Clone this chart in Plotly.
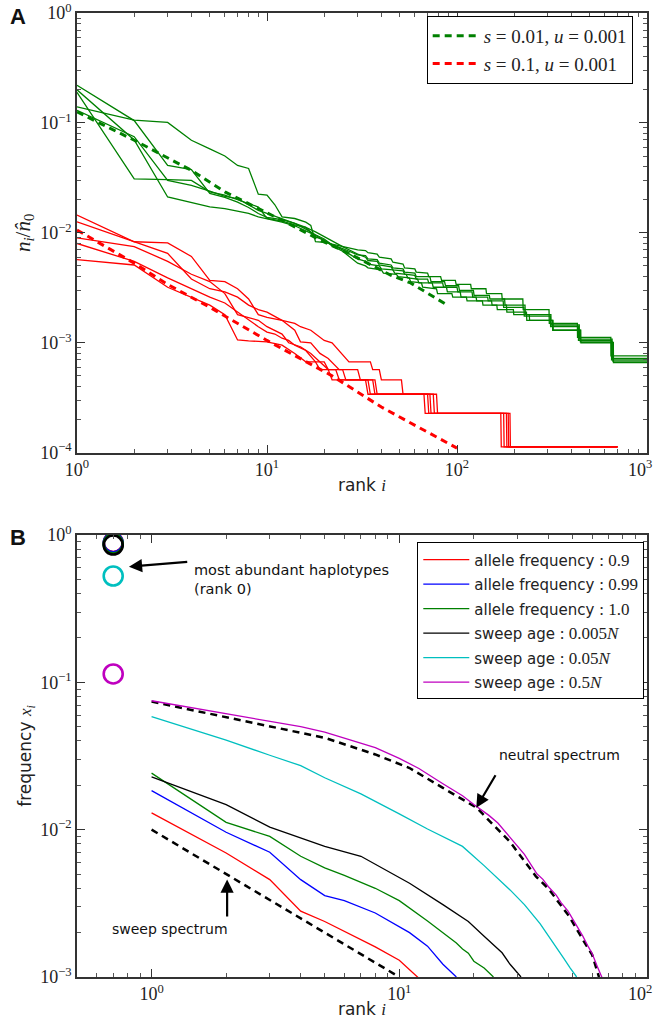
import plotly.graph_objects as go
import numpy as np

# ---------------- Panel A data ----------------
green_sim_1_rank = [1,2,3,4,5,6,7,8,9,10,11,12,14,16,17,18,20,22,25,28,30,33,34,38,39,45,46,52,53,60,61,70,71,82,83,98,99,118,119,142,143,172,173,222,223,305,306,430,431,645,646,1000]
green_sim_1_val = [0.14,0.106,0.101,0.0695,0.058,0.05,0.041,0.0385,0.0225,0.022,0.018,0.014,0.0135,0.0125,0.0117,0.0083,0.0082,0.0079,0.0076,0.0072,0.007,0.0069,0.0066,0.0064,0.006,0.0058,0.0054,0.0052,0.0048,0.0047,0.0044,0.0043,0.004,0.004,0.0037,0.0037,0.0034,0.0034,0.0031,0.0031,0.0028,0.0028,0.0025,0.0025,0.0020,0.0020,0.0015,0.0015,0.00112,0.00112,0.00076,0.00076]

green_sim_2_rank = [1,2,3,4,5,6,7,8,9,10,12,14,16,18,20,22,25,28,30,33,34,38,39,45,46,52,53,60,61,72,73,86,87,102,103,122,123,148,149,178,179,228,229,312,313,440,441,655,656,1000]
green_sim_2_val = [0.22,0.105,0.041,0.0377,0.0228,0.021,0.019,0.017,0.015,0.0138,0.0132,0.0122,0.0108,0.0096,0.0088,0.0078,0.0072,0.0066,0.0063,0.0062,0.0058,0.0057,0.0053,0.0051,0.0048,0.0047,0.0044,0.0043,0.004,0.004,0.0036,0.0036,0.0033,0.0033,0.003,0.003,0.0027,0.0027,0.0025,0.0025,0.0022,0.0022,0.0018,0.0018,0.00145,0.00145,0.00108,0.00108,0.00072,0.00072]

green_sim_3_rank = [1,2,3,4,5,6,7,8,9,10,12,14,16,18,20,22,25,28,30,33,34,38,39,45,46,52,53,60,61,70,71,84,85,100,101,120,121,145,146,175,176,225,226,310,311,435,436,650,651,1000]
green_sim_3_val = [0.19,0.031,0.0305,0.030,0.0236,0.022,0.02,0.0185,0.0172,0.0135,0.0128,0.0118,0.0112,0.0102,0.0092,0.0084,0.0075,0.0068,0.0064,0.006,0.0056,0.0055,0.0051,0.0049,0.0046,0.0045,0.0042,0.0041,0.0038,0.0038,0.0035,0.0035,0.0032,0.0032,0.0029,0.0029,0.0026,0.0026,0.0024,0.0024,0.0021,0.0021,0.00175,0.00175,0.0014,0.0014,0.00105,0.00105,0.0007,0.0007]

green_sim_4_rank = [1,2,3,4,5,6,7,8,9,10,12,14,16,18,20,22,25,28,30,33,34,39,40,46,47,54,55,62,63,74,75,88,89,104,105,126,127,152,153,182,183,232,233,318,319,448,449,665,666,1000]
green_sim_4_val = [0.2,0.07,0.0212,0.019,0.0172,0.0166,0.0158,0.015,0.014,0.0135,0.0125,0.0116,0.0104,0.0095,0.0085,0.0078,0.007,0.0062,0.0058,0.0055,0.0052,0.005,0.0047,0.0046,0.0043,0.0042,0.0039,0.0038,0.0035,0.0035,0.0032,0.0032,0.0029,0.0029,0.0026,0.0026,0.0024,0.0024,0.0022,0.0022,0.0019,0.0019,0.0016,0.0016,0.0013,0.0013,0.001,0.001,0.00066,0.00066]

green_sim_5_rank = [1,2,3,4,5,6,7,8,9,10,12,14,16,18,20,22,25,28,30,33,34,40,41,48,49,56,57,65,66,78,79,94,95,112,113,136,137,162,163,198,199,240,241,320,321,445,446,660,661,1000]
green_sim_5_val = [0.13,0.075,0.03,0.027,0.024,0.0215,0.0205,0.018,0.016,0.015,0.0135,0.0122,0.0112,0.0092,0.0086,0.0076,0.0068,0.0058,0.0053,0.005,0.0048,0.0046,0.0043,0.0042,0.004,0.0039,0.0036,0.0035,0.0032,0.0031,0.0028,0.0028,0.0026,0.0026,0.0024,0.0024,0.0022,0.0022,0.002,0.002,0.0018,0.0018,0.0016,0.0016,0.0013,0.0013,0.00102,0.00102,0.00068,0.00068]

green_theory_rank = [1,2,4,6,12,19,27,45,57,89]
green_theory_val = [0.126,0.0696,0.037,0.0236,0.013,0.0086,0.0065,0.0041,0.0035,0.0022]

red_sim_1_rank = [1,2,3,4,5,6,7,8,9,10,12,14,15,17,20,22,27,35,36,39,40,51,52,78,79,190,191,700]
red_sim_1_val = [0.0145,0.0083,0.0081,0.0061,0.0037,0.0036,0.0031,0.0025,0.0018,0.0017,0.0016,0.0015,0.0014,0.0013,0.00105,0.001,0.00067,0.00067,0.00057,0.00057,0.00046,0.00046,0.00034,0.00034,0.000228,0.000228,0.000113,0.000113]

red_sim_2_rank = [1,2,3,4,5,6,7,8,9,10,12,14,15,17,19,21,24,30,31,37,38,72,73,182,183,700]
red_sim_2_val = [0.0126,0.0083,0.0065,0.0038,0.0031,0.0029,0.0026,0.0022,0.002,0.0019,0.0016,0.0013,0.00102,0.001,0.0008,0.00072,0.00057,0.00057,0.00046,0.00046,0.00034,0.00034,0.000228,0.000228,0.000113,0.000113]

red_sim_3_rank = [1,2,3,4,5,6,7,8,9,10,11,12,13,15,17,19,21,25,26,34,35,67,68,170,171,700]
red_sim_3_val = [0.009,0.0075,0.0055,0.0042,0.0036,0.0028,0.0018,0.0017,0.0016,0.0014,0.0013,0.0012,0.001,0.00092,0.0008,0.00067,0.00057,0.00057,0.00046,0.00046,0.00034,0.00034,0.000228,0.000228,0.000113,0.000113]

red_sim_4_rank = [1,2,3,4,5,6,7,8,9,10,11,12,13,14,16,18,20,21,23,24,33,34,70,71,176,177,700]
red_sim_4_val = [0.008,0.0055,0.0039,0.0031,0.0026,0.0023,0.0019,0.0016,0.0014,0.00125,0.0012,0.0011,0.00105,0.00095,0.00085,0.00067,0.00067,0.00057,0.00057,0.00046,0.00046,0.00034,0.00034,0.000228,0.000228,0.000113,0.000113]

red_sim_5_rank = [1,2,3,4,5,6,7,8,10,12,14,16,18,19,21,22,36,37,75,76,186,187,700]
red_sim_5_val = [0.0057,0.0051,0.0032,0.0026,0.0022,0.0018,0.00106,0.00104,0.00102,0.00095,0.0008,0.00067,0.00067,0.00057,0.00057,0.00046,0.00046,0.00034,0.00034,0.000228,0.000228,0.000113,0.000113]

red_theory_rank = [1,2,3,5,10,16,22,40,100]
red_theory_val = [0.0106,0.0053,0.0034,0.0021,0.00105,0.00067,0.0005,0.00026,0.00011]

# ---------------- Panel B data ----------------
b_labels = ["allele frequency : 0.9", "allele frequency : 0.99", "allele frequency : 1.0",
            "sweep age : 0.005N", "sweep age : 0.05N", "sweep age : 0.5N"]
b_colors = ["#ff0000", "#0000ff", "#008000", "#000000", "#00bfbf", "#bf00bf"]

rank0_x = 0.7
rank0_vals = [0.89, 0.885, 0.87, 0.855, 0.527, 0.114]

af09_rank = [1,2,3,4,5,7,8,10,11,12]
af09_val = [0.013,0.00695,0.00458,0.0028,0.00238,0.0018,0.0016,0.0013,0.00112,0.00098]
af099_rank = [1,2,3,4,5,6,8,10,11,13,15,17]
af099_val = [0.0184,0.0096,0.00703,0.00458,0.00357,0.0033,0.00272,0.0022,0.002,0.00162,0.00122,0.001]
af10_rank = [1,2,3,4,5,6,8,10,13,15,17,18,19,20,22,24]
af10_val = [0.0242,0.0112,0.009,0.0066,0.0055,0.0049,0.004,0.0033,0.0024,0.002,0.0017,0.00155,0.00145,0.00128,0.00115,0.001]
age0005_rank = [1,2,3,5,7,11,15,19,22,26,28,31]
age0005_val = [0.0228,0.0148,0.0104,0.0077,0.0066,0.00433,0.0031,0.00238,0.00189,0.00146,0.00122,0.001]
age005_rank = [1,2,3,4,5,7,10,13,18,22,28,32,37,42,46,49,52]
age005_val = [0.0586,0.0405,0.032,0.0272,0.0225,0.0175,0.0128,0.0101,0.0077,0.0057,0.0039,0.0031,0.0023,0.0017,0.00135,0.00115,0.001]
age05_rank = [1,2,3,4,5,6,8,10,12,15,18,20,23,25,28,30,32,34,36,38,40,43,45,48,50,53,55,58,60,63,66]
age05_val = [0.075,0.061,0.054,0.050,0.046,0.042,0.036,0.0305,0.026,0.0205,0.0170,0.0148,0.0125,0.0111,0.0089,0.0078,0.0068,0.0058,0.0050,0.0046,0.0041,0.0036,0.0032,0.0028,0.0025,0.0021,0.0019,0.0016,0.00145,0.00118,0.00098]

neutral_rank = [1,2,4,5,8,11,15,20.5,28,35.6,40,48.5,55,60,64]
neutral_val = [0.074,0.058,0.0455,0.042,0.0324,0.0262,0.0192,0.0141,0.00826,0.00482,0.00398,0.00258,0.0018,0.00142,0.001]
sweep_rank = [1,10]
sweep_val = [0.01,0.001]

b_series = [(af09_rank, af09_val), (af099_rank, af099_val), (af10_rank, af10_val),
            (age0005_rank, age0005_val), (age005_rank, age005_val), (age05_rank, age05_val)]

SERIF = "Liberation Serif"
SANS = "DejaVu Sans"
GREEN = "#008000"
RED = "#ff0000"

fig = go.Figure()

def add_line(x, y, color, xa, ya, width=1.3, dash=None, name=None, showlegend=False, legend=None, group=None):
    fig.add_trace(go.Scatter(x=x, y=y, mode="lines", xaxis=xa, yaxis=ya,
                             line=dict(color=color, width=width, dash=dash),
                             name=name, showlegend=showlegend, legend=legend,
                             legendgroup=group, hoverinfo="skip"))

for r, v in [(green_sim_1_rank, green_sim_1_val), (green_sim_2_rank, green_sim_2_val),
             (green_sim_3_rank, green_sim_3_val), (green_sim_4_rank, green_sim_4_val),
             (green_sim_5_rank, green_sim_5_val)]:
    add_line(r, v, GREEN, "x", "y")
for r, v in [(red_sim_1_rank, red_sim_1_val), (red_sim_2_rank, red_sim_2_val),
             (red_sim_3_rank, red_sim_3_val), (red_sim_4_rank, red_sim_4_val),
             (red_sim_5_rank, red_sim_5_val)]:
    add_line(r, v, RED, "x", "y")
add_line(green_theory_rank, green_theory_val, GREEN, "x", "y", width=3, dash="7px,5px",
         name="<i>s</i> = 0.01, <i>u</i> = 0.001", showlegend=True, legend="legend", group="ga")
add_line(red_theory_rank, red_theory_val, RED, "x", "y", width=3, dash="7px,5px",
         name="<i>s</i> = 0.1, <i>u</i> = 0.001", showlegend=True, legend="legend", group="gb")

# panel B
add_line(sweep_rank, sweep_val, "#000000", "x2", "y2", width=2.5, dash="7px,5px")
add_line(neutral_rank, neutral_val, "#000000", "x2", "y2", width=2.5, dash="7px,5px")

def fmt_label(lbl):
    head, tail = lbl.split(" : ")
    if tail.endswith("N"):
        tail = tail[:-1] + "<i>N</i>"
    return f"{head} <span style='font-family:{SERIF};font-size:17px'>: {tail}</span>"

for i, ((r, v), lbl, col) in enumerate(zip(b_series, b_labels, b_colors)):
    add_line(r, v, col, "x2", "y2", width=1.3, name=fmt_label(lbl), showlegend=True,
             legend="legend2", group=f"b{i}")

for val, col in zip(rank0_vals, b_colors):
    fig.add_trace(go.Scatter(x=[rank0_x], y=[val], mode="markers", xaxis="x2", yaxis="y2",
                             marker=dict(symbol="circle-open", size=19, color=col,
                                         line=dict(color=col, width=2.6)),
                             showlegend=False, hoverinfo="skip"))

axis_common = dict(type="log", showgrid=False, zeroline=False, showline=True, automargin=False,
                   linecolor="#333333", linewidth=1.5, mirror="allticks",
                   ticks="inside", ticklen=8, tickwidth=1, tickcolor="#333333",
                   ticklabeloverflow="allow",
                   minor=dict(ticks="inside", ticklen=4, tickwidth=0.8, tickcolor="#555555", dtick="D1", showgrid=False),
                   tickfont=dict(family=SERIF, size=18, color="#222222"))

NB = "\u00a0"

def pow_text(e, pad=False):
    s = str(e).replace("-", "\u2212")
    return f"10<sup>{s}</sup>" + (NB * 3 if pad else "")

fig.update_layout(
    width=659, height=1028,
    paper_bgcolor="white", plot_bgcolor="white",
    margin=dict(l=77, r=12, t=13, b=51, autoexpand=False),
    xaxis=dict(axis_common, domain=[0, 1], anchor="y", range=[0, 3],
               tickvals=[1, 10, 100, 1000], ticktext=[pow_text(e, e == 3) for e in range(0, 4)],
               title=dict(text=f"rank <span style='font-family:{SERIF}'><i>i</i></span>",
                          font=dict(family=SANS, size=17, color="#222"), standoff=0)),
    yaxis=dict(axis_common, domain=[0.5439, 1], anchor="x", range=[-4, 0],
               tickvals=[1, 0.1, 0.01, 0.001, 0.0001], ticktext=[pow_text(-e) for e in range(0, 5)],
               title=dict(text="<i>n<sub>i</sub></i>/<i>n\u0302</i><sub>0</sub>",
                          font=dict(family=SERIF, size=21, color="#222"), standoff=4)),
    xaxis2=dict(axis_common, domain=[0, 1], anchor="y2", range=[np.log10(0.5), 2],
                tickvals=[1, 10, 100], ticktext=[pow_text(e, e == 2) for e in range(0, 3)],
                title=dict(text=f"rank <span style='font-family:{SERIF}'><i>i</i></span>",
                           font=dict(family=SANS, size=17, color="#222"), standoff=0)),
    yaxis2=dict(axis_common, domain=[0, 0.4585], anchor="x2", range=[-3, 0],
                tickvals=[1, 0.1, 0.01, 0.001], ticktext=[pow_text(-e) for e in range(0, 4)],
                title=dict(text=f"frequency <span style='font-family:{SERIF}'><i>x<sub>i</sub></i></span>",
                           font=dict(family=SANS, size=17, color="#222"), standoff=4)),
    legend=dict(x=0.6135, y=0.997, xanchor="left", yanchor="top",
                bgcolor="white", bordercolor="#000", borderwidth=1, itemwidth=46,
                font=dict(family=SERIF, size=19, color="#222"), tracegroupgap=0,
                traceorder="grouped"),
    legend2=dict(x=0.597, y=0.4508, xanchor="left", yanchor="top",
                 bgcolor="white", bordercolor="#000", borderwidth=1, itemwidth=46,
                 font=dict(family=SANS, size=15, color="#222"), tracegroupgap=2,
                 traceorder="grouped"),
)

annotations = [
    dict(text="<b>A</b>", xref="paper", yref="paper", x=-0.121, y=0.996, xanchor="left",
         yanchor="middle", showarrow=False, font=dict(family="Liberation Sans", size=22, color="#111")),
    dict(text="<b>B</b>", xref="paper", yref="paper", x=-0.121, y=0.4564, xanchor="left",
         yanchor="middle", showarrow=False, font=dict(family="Liberation Sans", size=22, color="#111")),
    dict(text="most abundant haplotypes<br>(rank 0)", xref="x2", yref="y2", x=0.165, y=-0.305,
         xanchor="left", yanchor="middle", align="left", showarrow=False,
         font=dict(family=SANS, size=14.5, color="#111")),
    dict(text="", xref="x2", yref="y2", x=-0.0913, y=-0.215, axref="x2", ayref="y2",
         ax=0.15, ay=-0.181, showarrow=True, arrowhead=2, arrowsize=1.2, arrowwidth=2.2,
         arrowcolor="#000"),
    dict(text="neutral spectrum", xref="x2", yref="y2", x=1.646, y=-1.49,
         xanchor="center", yanchor="middle", showarrow=False,
         font=dict(family=SANS, size=14, color="#111")),
    dict(text="", xref="x2", yref="y2", x=1.311, y=-1.851, axref="x2", ayref="y2",
         ax=1.392, ay=-1.62, showarrow=True, arrowhead=2, arrowsize=1.2, arrowwidth=2.2,
         arrowcolor="#000"),
    dict(text="sweep spectrum", xref="x2", yref="y2", x=0.0744, y=-2.671,
         xanchor="center", yanchor="middle", showarrow=False,
         font=dict(family=SANS, size=14, color="#111")),
    dict(text="", xref="x2", yref="y2", x=0.305, y=-2.339, axref="x2", ayref="y2",
         ax=0.305, ay=-2.599, showarrow=True, arrowhead=2, arrowsize=1.2, arrowwidth=2.2,
         arrowcolor="#000"),
]
fig.update_layout(annotations=annotations)

fig.write_html("out.html", config={"displayModeBar": False},
               post_script="document.body.style.margin='0px';")
